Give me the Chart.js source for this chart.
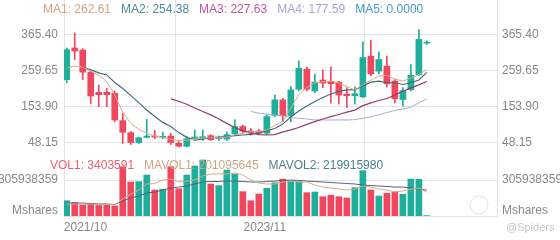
<!DOCTYPE html>
<html>
<head>
<meta charset="utf-8">
<script src="https://cdn.jsdelivr.net/npm/chart.js@4.4.1/dist/chart.umd.min.js"></script>
<style>
  html, body { margin: 0; padding: 0; background: #fff; }
</style>
</head>
<body>
<canvas id="chart" width="560" height="240"></canvas>
<script>
// monthly candles
const months = ['2021/10','2021/11','2021/12',
  '2022/01','2022/02','2022/03','2022/04','2022/05','2022/06','2022/07','2022/08','2022/09','2022/10','2022/11','2022/12',
  '2023/01','2023/02','2023/03','2023/04','2023/05','2023/06','2023/07','2023/08','2023/09','2023/10','2023/11','2023/12',
  '2024/01','2024/02','2024/03','2024/04','2024/05','2024/06','2024/07','2024/08','2024/09','2024/10','2024/11','2024/12',
  '2025/01','2025/02','2025/03','2025/04','2025/05','2025/06','2025/07'];

const open  = [233,326,320,255,196,196,193,113,78,49,64,68,64,68,47,38,61,63,69,60,59,74,96,83,83,76,128,174,128,205,264,200,232,228,226,191,186,183,302,258,273,229,175,204,248,340];
const high  = [326,370,324,260,217,208,200,135,81,65,117,85,80,76,54,67,86,86,72,68,80,116,100,90,88,132,188,178,213,288,270,249,262,271,228,210,212,344,348,315,302,235,210,277,380,347];
const low   = [224,292,233,162,154,154,110,46,43,46,62,60,60,43,36,36,58,55,55,55,55,70,76,70,73,72,124,110,110,200,200,195,210,164,161,151,161,180,245,250,211,165,156,200,245,336];
const close = [321,317,255,185,189,189,115,79,49,63,68,65,67,49,38,60,65,66,57,64,72,96,82,76,76,125,174,128,203,267,205,226,223,221,188,186,192,298,250,292,221,177,201,246,351,342];

const ma1 = [267,273,270,258,246,228,188,138,105,88,76,68,63,59,55,56,59,62,63,63,65,71,77,80,81,85,100,110,150,190,210,224,227,229,223,213,203,218,232,244,246,235,229,238,248,262.61];
const ma2 = [null,null,270,262,253,247,225,207,187,166,144,125,108,96,78,64,56,59,63,65,66,69,71,73,77,83,90,103,124,141,156,169,181,191,199,203,203,215,226,229,224,224,219,224,232,254.38];
const ma3 = [null,null,null,null,null,null,null,null,null,null,null,null,null,
  177,170,161,150,140,130,118,105,93,84,77,72,71,72,80,86,93,102,110,118,125,131,138,144,157,165,172,178,188,199,209,218,227.63];
const ma4 = [null,null,null,null,null,null,null,null,null,null,null,null,null,null,null,null,null,null,null,null,null,null,null,
  140,135,132,129,127,122,120,118,115,115,115,115,115,116,120,124,130,137,143,147,153,165,177.59];

// volumes in millions of shares
const volume = [130,116,93,108,93,93,85,418,289,292,348,221,227,419,232,348,425,476,272,258,391,357,207,130,187,235,283,314,300,292,198,204,164,176,164,153,241,385,221,170,193,207,184,314,311,3.403591];
const mavol1 = [102,102,98,102,93,102,93,144,187,221,272,276,306,314,289,297,306,340,357,357,357,365,348,306,280,272,272,289,297,289,289,263,246,238,229,221,229,255,246,229,221,204,212,229,238,201.095645];
const mavol2 = [110,110,110,106,102,102,98,127,153,170,195,204,221,238,246,255,272,289,293,293,297,297,293,289,289,293,297,302,306,302,297,293,289,285,280,276,272,263,259,255,251,246,246,238,229,219.91598];

const priceTicks = [48.15, 153.90, 259.65, 365.40];
const volumeTicks = [305938359];
const labelMonths = [0, 25];

const maLegend = [
  { name: 'MA1', value: '262.61', color: '#d4a483' },
  { name: 'MA2', value: '254.38', color: '#4a8c9c' },
  { name: 'MA3', value: '227.63', color: '#c2559c' },
  { name: 'MA4', value: '177.59', color: '#a2a7d8' },
  { name: 'MA5', value: '0.0000', color: '#3f9acb' }
];
const volLegend = [
  { name: 'VOL1', value: '3403591', color: '#ef5f70' },
  { name: 'MAVOL1', value: '201095645', color: '#d4a483' },
  { name: 'MAVOL2', value: '219915980', color: '#4c8096' }
];

const UP = '#1fae99';
const DOWN = '#f0475f';
const GRID = '#e4e4e4';
const TEXT = '#888888';
const FONT = '"Liberation Sans", Arial, sans-serif';

const up = close.map((c, i) => c >= open[i]);
const colors = up.map(u => u ? UP : DOWN);

const xy = arr => arr.map((v, i) => ({ x: i, y: v }));
const mil = arr => arr.map((v, i) => ({ x: i, y: v === null ? null : v * 1e6 }));

// x positions of grid lines and month labels
const xMin = -0.34, xMax = 53.76;
const gridAt = [-0.34, 24.75, 49.75];
const labelAt = [2.35, 24.75];
const volLabelAt = 45e6;

Chart.defaults.font.family = FONT;
Chart.defaults.font.size = 12;

function fixWidth(w) {
  return scale => {
    scale.width = w;
    scale.paddingTop = 0;
    scale.paddingBottom = 0;
  };
}

function priceAxis(pos) {
  return {
    type: 'linear', position: pos, stack: pos, stackWeight: 155,
    min: 12.4, max: 466.5, offset: false,
    grid: { color: GRID, drawTicks: false },
    border: { display: true, color: GRID },
    ticks: { color: TEXT, padding: pos === 'left' ? 6 : 5, callback: v => v.toFixed(2) },
    afterBuildTicks: s => { s.ticks = priceTicks.map(v => ({ value: v })); },
    afterFit: fixWidth(pos === 'left' ? 64 : 63)
  };
}

function volumeAxis(pos) {
  return {
    type: 'linear', position: pos, stack: pos, stackWeight: 61,
    min: 0, max: 518.4e6, offset: false,
    grid: { color: c => (c.tick && c.tick.value === volLabelAt) ? 'rgba(0,0,0,0)' : GRID, drawTicks: false },
    border: { display: true, color: GRID },
    ticks: { color: TEXT, padding: pos === 'left' ? 6 : 5,
      callback: v => v === volLabelAt ? 'Mshares' : String(v) },
    afterBuildTicks: s => { s.ticks = [volLabelAt].concat(volumeTicks).map(v => ({ value: v })); },
    afterFit: fixWidth(pos === 'left' ? 64 : 63)
  };
}

const overlay = {
  id: 'overlay',
  afterDatasetsDraw(chart) {
    const ctx = chart.ctx;
    ctx.save();
    ctx.font = '12px ' + FONT;
    ctx.textBaseline = 'middle';
    let x = 43;
    maLegend.forEach(it => {
      const s = it.name + ': ' + it.value;
      ctx.fillStyle = it.color;
      ctx.fillText(s, x, 10);
      x += ctx.measureText(s).width + 10;
    });
    x = 50;
    volLegend.forEach(it => {
      const s = it.name + ': ' + it.value;
      ctx.fillStyle = it.color;
      ctx.fillText(s, x, 166);
      x += ctx.measureText(s).width + 10;
    });
    // watermark
    ctx.strokeStyle = 'rgba(0,0,0,0.12)';
    ctx.lineWidth = 1;
    ctx.beginPath();
    ctx.arc(479, 205, 9, 0, Math.PI * 2);
    ctx.stroke();
    ctx.font = '11px ' + FONT;
    ctx.fillStyle = '#c6c6c6';
    ctx.fillText('@Spiders', 506, 228);
    ctx.restore();
  }
};

new Chart(document.getElementById('chart'), {
  type: 'bar',
  data: {
    datasets: [
      { type: 'line', label: 'MA1', data: xy(ma1), yAxisID: 'yp', borderColor: '#dcaa86', borderWidth: 1, pointRadius: 0, order: 0 },
      { type: 'line', label: 'MA2', data: xy(ma2), yAxisID: 'yp', borderColor: '#3e6e79', borderWidth: 1.2, pointRadius: 0, order: 0 },
      { type: 'line', label: 'MA3', data: xy(ma3), yAxisID: 'yp', borderColor: '#8c3d70', borderWidth: 1.2, pointRadius: 0, order: 0 },
      { type: 'line', label: 'MA4', data: xy(ma4), yAxisID: 'yp', borderColor: '#a9abd9', borderWidth: 1, pointRadius: 0, order: 0 },
      { label: 'wick', data: low.map((l, i) => ({ x: i, y: [l, high[i]] })), yAxisID: 'yp',
        backgroundColor: colors, barThickness: 1, grouped: false, order: 2 },
      { label: 'body', data: open.map((o, i) => ({ x: i, y: [o, close[i]] })), yAxisID: 'yp',
        backgroundColor: colors, barThickness: 6, minBarLength: 1, grouped: false, order: 1 },
      { label: 'VOL', data: mil(volume), yAxisID: 'yv', backgroundColor: colors, barThickness: 6, grouped: false, order: 1 },
      { type: 'line', label: 'MAVOL1', data: mil(mavol1), yAxisID: 'yv', borderColor: '#dcaa86', borderWidth: 1, pointRadius: 0, order: 0 },
      { type: 'line', label: 'MAVOL2', data: mil(mavol2), yAxisID: 'yv', borderColor: '#57607e', borderWidth: 1, pointRadius: 0, order: 0 }
    ]
  },
  options: {
    responsive: false,
    animation: false,
    layout: { padding: 0 },
    plugins: { legend: { display: false }, tooltip: { enabled: false } },
    scales: {
      x: {
        type: 'linear', position: 'bottom', min: xMin, max: xMax, offset: false,
        grid: { color: c => (c.tick && c.tick.value === labelAt[0]) ? 'rgba(0,0,0,0)' : GRID, drawTicks: false },
        border: { display: true, color: GRID },
        ticks: {
          color: TEXT, padding: 4, autoSkip: false, maxRotation: 0,
          callback: v => {
            const k = labelAt.indexOf(v);
            return k >= 0 ? months[labelMonths[k]] : '';
          }
        },
        afterBuildTicks: s => {
          s.ticks = gridAt.concat([labelAt[0]]).sort((a, b) => a - b).map(v => ({ value: v }));
        },
        afterFit: s => { s.height = 24; s.paddingLeft = 0; s.paddingRight = 0; }
      },
      // left stack is laid out in reverse order, so volume is listed first
      yv: volumeAxis('left'),
      yp: priceAxis('left'),
      ypr: priceAxis('right'),
      yvr: volumeAxis('right')
    }
  },
  plugins: [overlay]
});
</script>
</body>
</html>
